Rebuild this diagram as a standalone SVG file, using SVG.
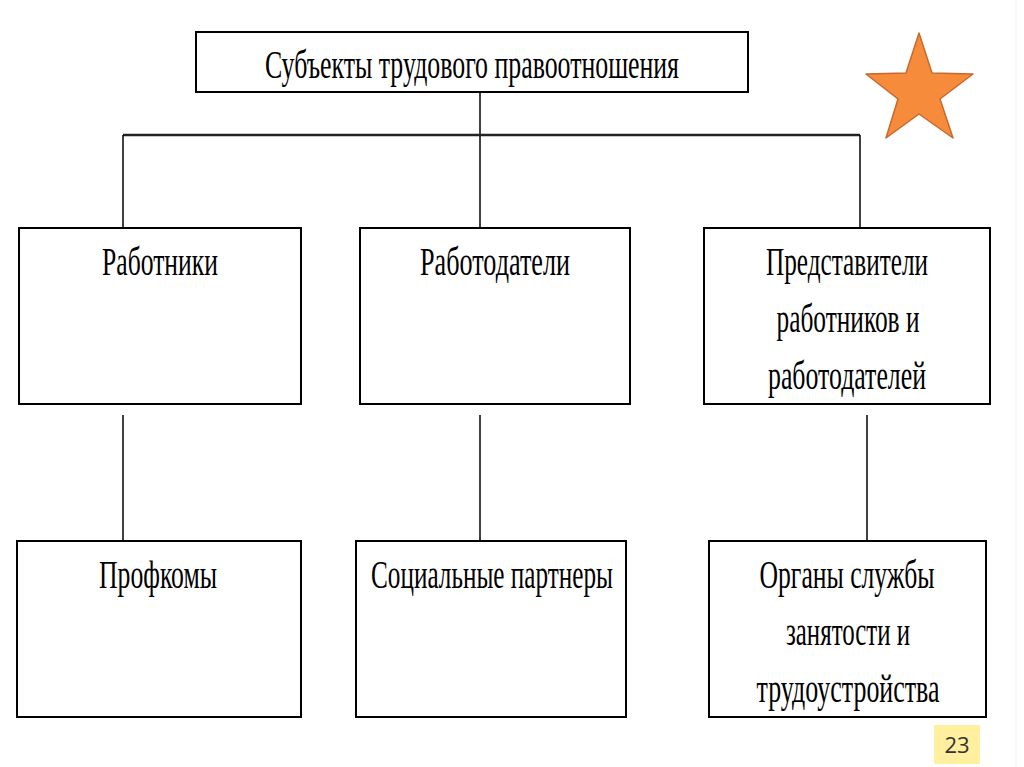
<svg xmlns="http://www.w3.org/2000/svg" width="1024" height="767" viewBox="0 0 1024 767">
<style>
.box{fill:#fff;stroke:#000;stroke-width:2}
.t{font-family:"Liberation Serif","Times New Roman",serif;font-size:40px;fill:#000;text-anchor:middle}
.c{stroke:#000;stroke-width:1.5;fill:none}
</style>
<rect width="1024" height="767" fill="#fff"/>
<line x1="1016" y1="0" x2="1016" y2="767" stroke="#eee" stroke-width="1"/>
<g id="connectors">
<line class="c" x1="480" y1="92" x2="480" y2="228"/>
<line x1="123" y1="135" x2="860" y2="135" stroke="#222" stroke-width="2.5"/>
<line class="c" x1="123" y1="135" x2="123" y2="228"/>
<line class="c" x1="860" y1="135" x2="860" y2="228"/>
<line class="c" x1="123" y1="415" x2="123" y2="541"/>
<line class="c" x1="480" y1="415" x2="480" y2="541"/>
<line class="c" x1="867" y1="415" x2="867" y2="541"/>
</g>
<g id="title">
<rect class="box" x="196" y="32" width="552" height="60"/>
<text class="t" x="472" y="78" textLength="414" lengthAdjust="spacingAndGlyphs">Субъекты трудового правоотношения</text>
</g>
<g id="rabotniki">
<rect class="box" x="19" y="228" width="282" height="176"/>
<text class="t" x="160" y="275" textLength="116" lengthAdjust="spacingAndGlyphs">Работники</text>
</g>
<g id="rabotodateli">
<rect class="box" x="360" y="228" width="270" height="176"/>
<text class="t" x="495" y="275" textLength="150" lengthAdjust="spacingAndGlyphs">Работодатели</text>
</g>
<g id="predstaviteli">
<rect class="box" x="704" y="228" width="286" height="176"/>
<text class="t" x="847" y="275" textLength="162" lengthAdjust="spacingAndGlyphs">Представители</text>
<text class="t" x="848" y="332" textLength="143" lengthAdjust="spacingAndGlyphs">работников и</text>
<text class="t" x="847" y="389" textLength="158" lengthAdjust="spacingAndGlyphs">работодателей</text>
</g>
<g id="profkomy">
<rect class="box" x="17" y="541" width="284" height="176"/>
<text class="t" x="158" y="588" textLength="118" lengthAdjust="spacingAndGlyphs">Профкомы</text>
</g>
<g id="partnery">
<rect class="box" x="356" y="541" width="270" height="176"/>
<text class="t" x="492" y="588" textLength="242" lengthAdjust="spacingAndGlyphs">Социальные партнеры</text>
</g>
<g id="organy">
<rect class="box" x="709" y="541" width="277" height="176"/>
<text class="t" x="847" y="588" textLength="175" lengthAdjust="spacingAndGlyphs">Органы службы</text>
<text class="t" x="848" y="645" textLength="124" lengthAdjust="spacingAndGlyphs">занятости и</text>
<text class="t" x="848" y="702" textLength="183" lengthAdjust="spacingAndGlyphs">трудоустройства</text>
</g>
<polygon points="919,33 932,73 973,74 940,99 953,138 919,114 886,138 898,99 866,74 906,73" fill="#F68B3C" stroke="#C8692C" stroke-width="1.5" stroke-linejoin="round"/>
<rect x="934" y="725" width="46" height="39" fill="#FFEF9E"/>
<text x="957" y="753" font-family="'Open Sans','DejaVu Sans',sans-serif" font-size="22" fill="#333" text-anchor="middle">23</text>
</svg>
